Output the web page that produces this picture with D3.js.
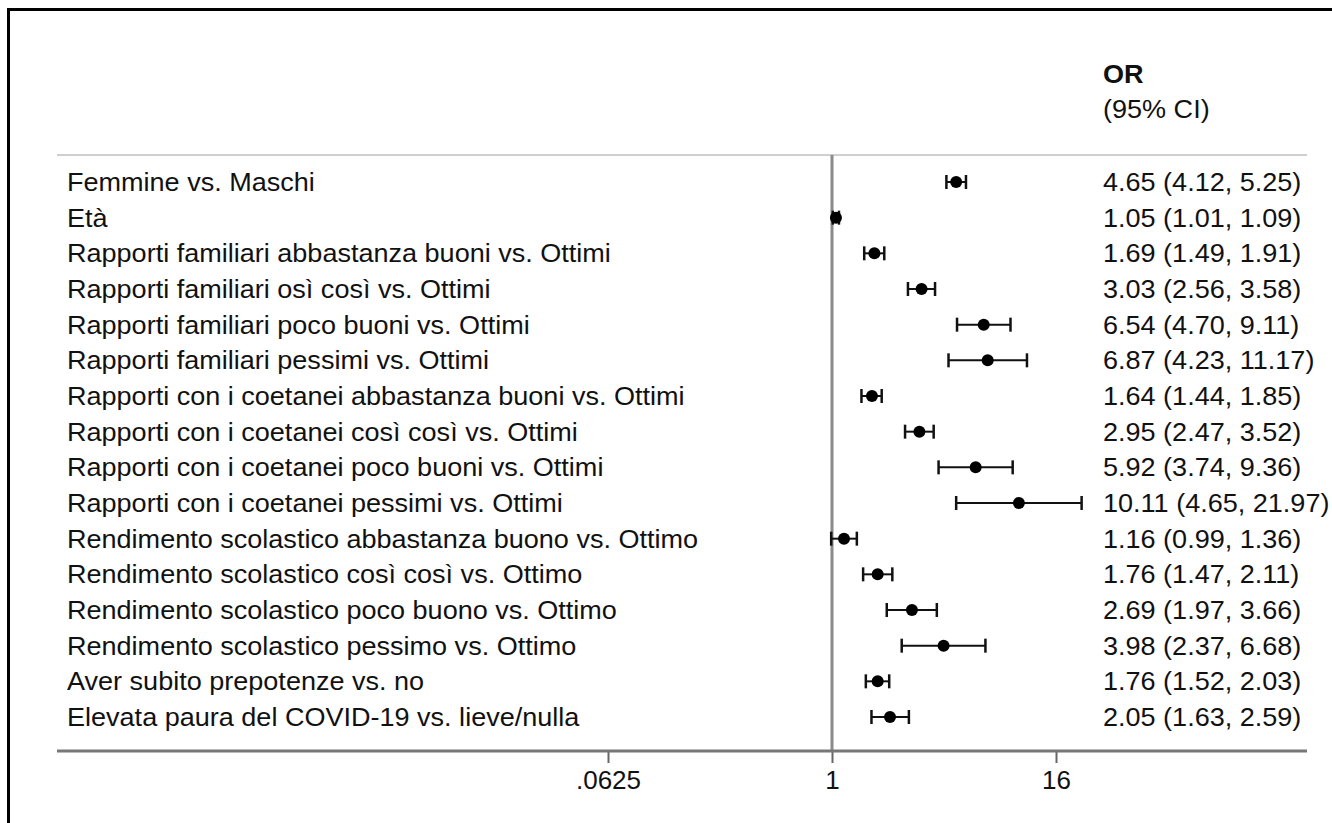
<!DOCTYPE html>
<html>
<head>
<meta charset="utf-8">
<script src="https://cdn.jsdelivr.net/npm/d3@7"></script>
<style>
  html, body { margin: 0; padding: 0; background: #fff; }
  svg { display: block; }
  text { font-family: "Liberation Sans", Arial, sans-serif; fill: #111; }
</style>
</head>
<body>
<div id="chart"></div>
<script>
// row labels (top to bottom)
const labels = [
    "Femmine vs. Maschi",
    "Età",
    "Rapporti familiari abbastanza buoni vs. Ottimi",
    "Rapporti familiari osì così vs. Ottimi",
    "Rapporti familiari poco buoni vs. Ottimi",
    "Rapporti familiari pessimi vs. Ottimi",
    "Rapporti con i coetanei abbastanza buoni vs. Ottimi",
    "Rapporti con i coetanei così così vs. Ottimi",
    "Rapporti con i coetanei poco buoni vs. Ottimi",
    "Rapporti con i coetanei pessimi vs. Ottimi",
    "Rendimento scolastico abbastanza buono vs. Ottimo",
    "Rendimento scolastico così così vs. Ottimo",
    "Rendimento scolastico poco buono vs. Ottimo",
    "Rendimento scolastico pessimo vs. Ottimo",
    "Aver subito prepotenze vs. no",
    "Elevata paura del COVID-19 vs. lieve/nulla"
];
const oddsRatio = [4.65, 1.05, 1.69, 3.03, 6.54, 6.87, 1.64, 2.95, 5.92, 10.11, 1.16, 1.76, 2.69, 3.98, 1.76, 2.05];
const ciLow     = [4.12, 1.01, 1.49, 2.56, 4.70, 4.23, 1.44, 2.47, 3.74, 4.65, 0.99, 1.47, 1.97, 2.37, 1.52, 1.63];
const ciHigh    = [5.25, 1.09, 1.91, 3.58, 9.11, 11.17, 1.85, 3.52, 9.36, 21.97, 1.36, 2.11, 3.66, 6.68, 2.03, 2.59];
const xTicks = [0.0625, 1, 16];
const xTickLabels = [".0625", "1", "16"];

const width = 1332, height = 823;
const fontSize = 26;
const stretch = 1.04; // text in the reference is a bit wider than tall

const rows = labels.map((l, i) => ({
    label: l, or: oddsRatio[i], lo: ciLow[i], hi: ciHigh[i],
    text: `${oddsRatio[i].toFixed(2)} (${ciLow[i].toFixed(2)}, ${ciHigh[i].toFixed(2)})`
}));

const svg = d3.select("#chart").append("svg")
    .attr("width", width)
    .attr("height", height);

// outer frame
svg.append("rect")
    .attr("x", 8.5).attr("y", 9.5)
    .attr("width", width + 20).attr("height", height + 20)
    .attr("fill", "#fff")
    .attr("stroke", "#000")
    .attr("stroke-width", 3);

// scales
const x = d3.scaleLog().base(2)
    .domain([0.0625, 16])
    .range([608, 1056]);

const y = d3.scalePoint()
    .domain(labels)
    .range([182, 717]);

const lineLeft = 57, lineRight = 1307;
const headerY = 155, axisY = 751;

// left-anchored text with horizontal stretch
function putText(g, tx, ty) {
    return g.attr("transform", `translate(${tx},${ty}) scale(${stretch},1)`)
        .attr("font-size", fontSize);
}

// header
putText(svg.append("text"), 1103, 83)
    .attr("font-weight", "bold")
    .text("OR");
putText(svg.append("text"), 1103, 118)
    .text("(95% CI)");

// header separator
svg.append("line")
    .attr("x1", lineLeft).attr("x2", lineRight)
    .attr("y1", headerY).attr("y2", headerY)
    .attr("stroke", "#cfcfcf").attr("stroke-width", 2);

// null line at OR = 1
svg.append("line")
    .attr("x1", x(1)).attr("x2", x(1))
    .attr("y1", headerY).attr("y2", axisY)
    .attr("stroke", "#8a8a8a").attr("stroke-width", 3);

// x axis
const axis = d3.axisBottom(x)
    .tickValues(xTicks)
    .tickFormat((d, i) => xTickLabels[i])
    .tickSize(12)
    .tickPadding(8);

const axisG = svg.append("g")
    .attr("transform", `translate(0,${axisY})`)
    .call(axis);
axisG.select(".domain").remove();
axisG.selectAll(".tick line").attr("stroke", "#666").attr("stroke-width", 2);
axisG.selectAll(".tick text")
    .attr("font-size", fontSize)
    .attr("font-family", "Liberation Sans, Arial, sans-serif")
    .attr("fill", "#111");
svg.append("line")
    .attr("x1", lineLeft).attr("x2", lineRight)
    .attr("y1", axisY).attr("y2", axisY)
    .attr("stroke", "#777").attr("stroke-width", 3);

// row labels
svg.append("g")
    .selectAll("text")
    .data(rows)
    .join("text")
    .attr("transform", d => `translate(67,${y(d.label) + 9}) scale(${stretch},1)`)
    .attr("font-size", fontSize)
    .text(d => d.label);

// OR text column
svg.append("g")
    .selectAll("text")
    .data(rows)
    .join("text")
    .attr("transform", d => `translate(1103,${y(d.label) + 9}) scale(${stretch},1)`)
    .attr("font-size", fontSize)
    .text(d => d.text);

// confidence intervals
const ci = svg.append("g")
    .selectAll("g")
    .data(rows)
    .join("g")
    .attr("transform", d => `translate(0,${y(d.label)})`);

ci.append("line")
    .attr("x1", d => x(d.lo)).attr("x2", d => x(d.hi))
    .attr("stroke", "#111").attr("stroke-width", 2);
ci.append("line")
    .attr("x1", d => x(d.lo)).attr("x2", d => x(d.lo))
    .attr("y1", -7).attr("y2", 7)
    .attr("stroke", "#111").attr("stroke-width", 2.5);
ci.append("line")
    .attr("x1", d => x(d.hi)).attr("x2", d => x(d.hi))
    .attr("y1", -7).attr("y2", 7)
    .attr("stroke", "#111").attr("stroke-width", 2.5);
ci.append("circle")
    .attr("cx", d => x(d.or))
    .attr("r", 6)
    .attr("fill", "#000");
</script>
</body>
</html>
